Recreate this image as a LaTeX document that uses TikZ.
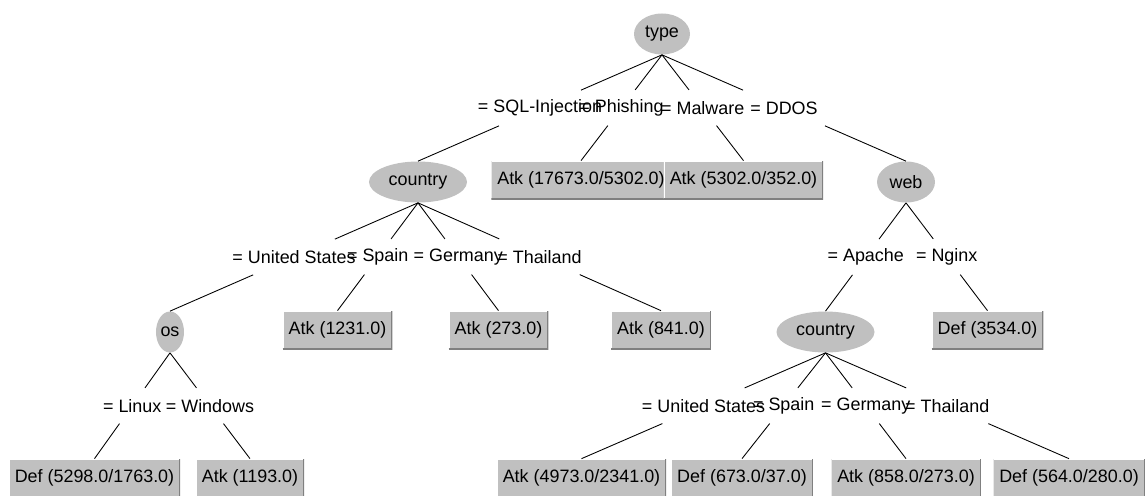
\documentclass[tikz,border=0pt]{standalone}
\usepackage{fontspec}
\setmainfont{Liberation Sans}
\usetikzlibrary{positioning,calc,shapes.geometric}

\definecolor{nodegray}{RGB}{192,192,192}
\definecolor{shadegray}{RGB}{128,128,128}

\tikzset{
    attr/.style={ellipse, fill=nodegray, minimum height=0.82cm, inner sep=0pt},
    leaf/.style={rectangle, fill=nodegray, minimum height=0.76cm, inner xsep=0.12cm, inner ysep=0pt,
        path picture={
            \draw [white, line width=0.04cm] (path picture bounding box.south west) |- (path picture bounding box.north east);
            \draw [shadegray, line width=0.05cm] (path picture bounding box.south west) -| (path picture bounding box.north east);
        }},
    cond/.style={rectangle, minimum width=3cm, minimum height=0.7cm, inner sep=0pt},
    branch/.style={draw=black, line width=0.5pt},
}

\begin{document}
\begin{tikzpicture}[on grid, font=\fontsize{10.2}{12}\selectfont]
    \useasboundingbox (-13.24,0.68) rectangle (9.72,-9.22);
    % nodes
    \node [attr, minimum width=1.12cm] (type) {type};
    \node [attr, minimum width=1.96cm, below left=2.96cm and 4.88cm of type] (country1) {country};
    \node [leaf, below left=2.92cm and 1.62cm of type] (phishing) {Atk (17673.0/5302.0)};
    \node [leaf, below right=2.92cm and 1.63cm of type] (malware) {Atk (5302.0/352.0)};
    \node [attr, minimum width=1.16cm, below right=2.96cm and 4.88cm of type] (web) {web};
    \node [attr, minimum width=0.56cm, below left=3cm and 4.96cm of country1] (os) {os};
    \node [leaf, below left=2.96cm and 1.61cm of country1] (spain1) {Atk (1231.0)};
    \node [leaf, below right=2.96cm and 1.61cm of country1] (germany1) {Atk (273.0)};
    \node [leaf, below right=2.96cm and 4.86cm of country1] (thailand1) {Atk (841.0)};
    \node [attr, minimum width=1.96cm, below left=3cm and 1.61cm of web] (country2) {country};
    \node [leaf, below right=2.96cm and 1.63cm of web] (nginx) {Def (3534.0)};
    \node [leaf, below left=2.92cm and 1.51cm of os] (linux) {Def (5298.0/1763.0)};
    \node [leaf, below right=2.92cm and 1.60cm of os] (windows) {Atk (1193.0)};
    \node [leaf, below left=2.92cm and 4.88cm of country2] (us2) {Atk (4973.0/2341.0)};
    \node [leaf, below left=2.92cm and 1.67cm of country2] (spain2) {Def (673.0/37.0)};
    \node [leaf, below right=2.92cm and 1.61cm of country2] (germany2) {Atk (858.0/273.0)};
    \node [leaf, below right=2.92cm and 4.87cm of country2] (thailand2) {Def (564.0/280.0)};
    % branch labels
    \node [cond] (sql) at ($(type.south)!.5!(country1.north)$) {= SQL-Injection};
    \node [cond] (phi) at ($(type.south)!.5!(phishing.north)$) {= Phishing};
    \node [cond] (mal) at ($(type.south)!.5!(malware.north)$) {= Malware};
    \node [cond] (ddos) at ($(type.south)!.5!(web.north)$) {= DDOS};
    \node [cond] (usa1) at ($(country1.south)!.5!(os.north)$) {= United States};
    \node [cond] (esp1) at ($(country1.south)!.5!(spain1.north)$) {= Spain};
    \node [cond] (ger1) at ($(country1.south)!.5!(germany1.north)$) {= Germany};
    \node [cond] (tha1) at ($(country1.south)!.5!(thailand1.north)$) {= Thailand};
    \node [cond] (apa) at ($(web.south)!.5!(country2.north)$) {= Apache};
    \node [cond] (ngx) at ($(web.south)!.5!(nginx.north)$) {= Nginx};
    \node [cond] (lnx) at ($(os.south)!.5!(linux.north)$) {= Linux};
    \node [cond] (win) at ($(os.south)!.5!(windows.north)$) {= Windows};
    \node [cond] (usa2) at ($(country2.south)!.5!(us2.north)$) {= United States};
    \node [cond] (esp2) at ($(country2.south)!.5!(spain2.north)$) {= Spain};
    \node [cond] (ger2) at ($(country2.south)!.5!(germany2.north)$) {= Germany};
    \node [cond] (tha2) at ($(country2.south)!.5!(thailand2.north)$) {= Thailand};
    % branches
    \draw [branch] (type.south) -- (sql) -- (country1.north);
    \draw [branch] (type.south) -- (phi) -- (phishing.north);
    \draw [branch] (type.south) -- (mal) -- (malware.north);
    \draw [branch] (type.south) -- (ddos) -- (web.north);
    \draw [branch] (country1.south) -- (usa1) -- (os.north);
    \draw [branch] (country1.south) -- (esp1) -- (spain1.north);
    \draw [branch] (country1.south) -- (ger1) -- (germany1.north);
    \draw [branch] (country1.south) -- (tha1) -- (thailand1.north);
    \draw [branch] (web.south) -- (apa) -- (country2.north);
    \draw [branch] (web.south) -- (ngx) -- (nginx.north);
    \draw [branch] (os.south) -- (lnx) -- (linux.north);
    \draw [branch] (os.south) -- (win) -- (windows.north);
    \draw [branch] (country2.south) -- (usa2) -- (us2.north);
    \draw [branch] (country2.south) -- (esp2) -- (spain2.north);
    \draw [branch] (country2.south) -- (ger2) -- (germany2.north);
    \draw [branch] (country2.south) -- (tha2) -- (thailand2.north);
\end{tikzpicture}
\end{document}
